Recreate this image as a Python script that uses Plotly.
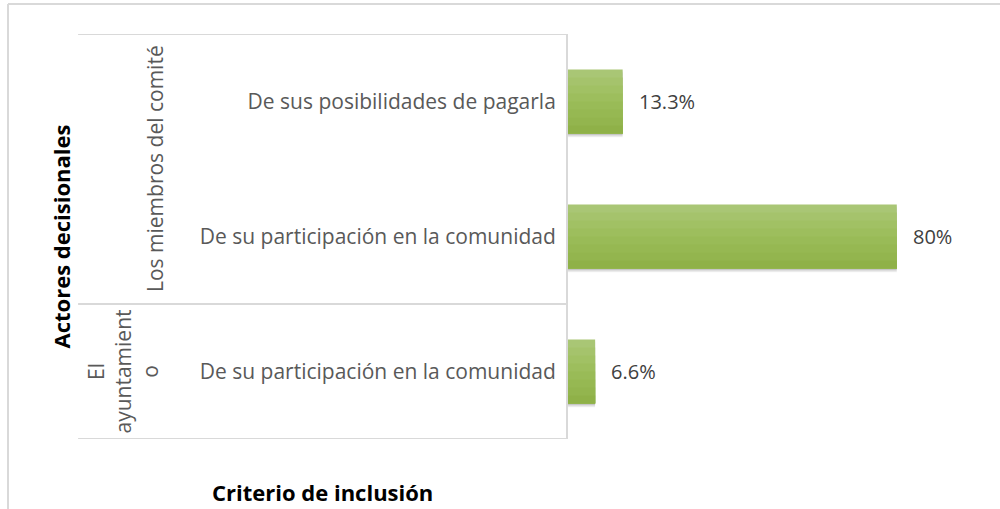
import plotly.graph_objects as go

# data
criterios = [
    "De sus posibilidades de pagarla",
    "De su participación en la comunidad",
    "De su participación en la comunidad",
]
actores = ["Los miembros del comité", "El<br>ayuntamient<br>o"]
actor_de_criterio = [0, 0, 1]
porcentajes = [13.3, 80, 6.6]
etiquetas = ["13.3%", "80%", "6.6%"]

FONT = "Open Sans"
GRID = "#d9d9d9"
TEXT = "#595959"
BAR_W = 0.474

pos = list(range(len(criterios)))

fig = go.Figure()

# soft shadow under the bars
for k, a in enumerate([0.06, 0.08, 0.10]):
    fig.add_trace(go.Bar(
        x=porcentajes, y=pos, orientation="h", width=BAR_W,
        offset=-BAR_W / 2 + 0.012 + 0.008 * (2 - k),
        marker=dict(color=f"rgba(0,0,0,{a})", line=dict(width=0)), hoverinfo="skip",
    ))

# vertical gradient fill (top light -> bottom dark); every slice runs to the
# bottom edge so no seams show between them
grad = ["#a9c675", "#a5c36c", "#a1c164", "#9dbe5d", "#99bb57", "#96b852", "#93b54e", "#8fb148"]
n = len(grad)
for k, c in enumerate(grad):
    fig.add_trace(go.Bar(
        x=porcentajes, y=pos, orientation="h",
        width=BAR_W - k * BAR_W / n, offset=-BAR_W / 2 + k * BAR_W / n,
        marker=dict(color=c, line=dict(width=0)), hoverinfo="skip",
    ))

annotations = []
# data labels
for v, p, t in zip(porcentajes, pos, etiquetas):
    annotations.append(dict(
        x=v, y=p, xref="x", yref="y", text=t, showarrow=False,
        xanchor="left", xshift=14, font=dict(family=FONT, size=20, color="#404040"),
    ))

# group labels (rotated, Excel style multi-level axis)
group_x = [155, 123]
for g, name in enumerate(actores):
    members = [p for p, a in zip(pos, actor_de_criterio) if a == g]
    annotations.append(dict(
        x=0, y=sum(members) / len(members), xref="paper", yref="y",
        xshift=group_x[g] - 568, text=name, showarrow=False, textangle=-90,
        font=dict(family=FONT, size=21, color=TEXT), xanchor="center", yanchor="middle",
    ))

# axis titles
annotations.append(dict(
    x=0, y=0.5, xref="paper", yref="paper", xshift=-508, text="<b>Actores decisionales</b>",
    showarrow=False, textangle=-90, xanchor="center", yanchor="middle",
    font=dict(family=FONT, size=22, color="#000000"),
))
annotations.append(dict(
    x=0, y=0, xref="paper", yref="paper", xshift=-246, yshift=-53,
    text="<b>Criterio de inclusión</b>", showarrow=False, xanchor="center", yanchor="middle",
    font=dict(family=FONT, size=22, color="#000000"),
))

# separator lines of the category axis
shapes = []
bounds = [-0.5]
for i in range(1, len(pos)):
    if actor_de_criterio[i] != actor_de_criterio[i - 1]:
        bounds.append(i - 0.5)
bounds.append(len(pos) - 0.5)
for b in bounds:
    shapes.append(dict(type="line", xref="paper", yref="y", x0=-1.192, x1=0, y0=b, y1=b,
                       line=dict(color=GRID, width=2)))

# outer chart frame (top and left edges visible)
shapes.append(dict(type="line", xref="paper", yref="paper", x0=-1.3625, x1=1.06, y0=1.074, y1=1.074,
                   line=dict(color=GRID, width=2)))
shapes.append(dict(type="line", xref="paper", yref="paper", x0=-1.3625, x1=-1.3625, y0=1.074, y1=-0.2,
                   line=dict(color=GRID, width=2)))

fig.update_layout(
    width=1000,
    height=509,
    margin=dict(l=568, r=21, t=34, b=70),
    paper_bgcolor="white",
    plot_bgcolor="white",
    showlegend=False,
    barmode="overlay",
    xaxis=dict(range=[0, 100], visible=False, fixedrange=True),
    yaxis=dict(
        range=[len(pos) - 0.5, -0.5],
        tickvals=pos,
        ticktext=criterios,
        tickfont=dict(family=FONT, size=21, color=TEXT),
        showline=True,
        linecolor=GRID,
        linewidth=2,
        showgrid=False,
        zeroline=False,
        ticks="",
        ticklabelstandoff=6,
        fixedrange=True,
    ),
    annotations=annotations,
    shapes=shapes,
)

fig.write_html(
    "out.html",
    config={"displayModeBar": False},
    post_script="document.body.style.margin='0';",
)
